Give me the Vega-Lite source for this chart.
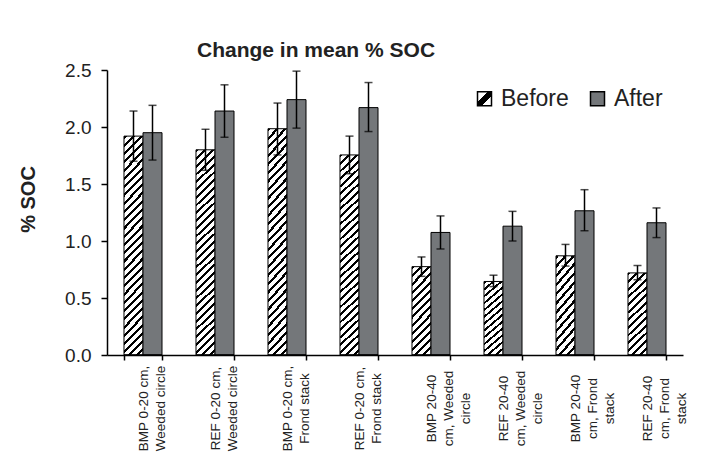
{
  "$schema": "https://vega.github.io/schema/vega-lite/v6.json",
  "width": 576,
  "height": 285,
  "autosize": {"type": "none"},
  "padding": {"left": 107, "top": 70, "right": 26, "bottom": 99},
  "background": "white",
  "config": {
    "font": "Liberation Sans",
    "view": {"stroke": null},
    "axis": {"labelColor": "#222", "titleColor": "#222"}
  },
  "title": {
    "text": "Change in mean % SOC",
    "fontSize": 21,
    "fontWeight": "bold",
    "color": "#222",
    "anchor": "start",
    "frame": "group",
    "dx": 90,
    "offset": 0
  },
  "data": {
    "values": [
      {"cat": "BMP 0-20 cm,|Weeded circle", "period": "Before", "mean": 1.92, "lo": 1.70, "hi": 2.14},
      {"cat": "BMP 0-20 cm,|Weeded circle", "period": "After", "mean": 1.95, "lo": 1.71, "hi": 2.19},
      {"cat": "REF 0-20 cm,|Weeded circle", "period": "Before", "mean": 1.80, "lo": 1.62, "hi": 1.98},
      {"cat": "REF 0-20 cm,|Weeded circle", "period": "After", "mean": 2.14, "lo": 1.91, "hi": 2.37},
      {"cat": "BMP 0-20 cm,|Frond stack", "period": "Before", "mean": 1.985, "lo": 1.755, "hi": 2.21},
      {"cat": "BMP 0-20 cm,|Frond stack", "period": "After", "mean": 2.24, "lo": 1.99, "hi": 2.49},
      {"cat": "REF 0-20 cm,|Frond stack", "period": "Before", "mean": 1.755, "lo": 1.59, "hi": 1.92},
      {"cat": "REF 0-20 cm,|Frond stack", "period": "After", "mean": 2.17, "lo": 1.96, "hi": 2.39},
      {"cat": "BMP 20-40|cm, Weeded|circle", "period": "Before", "mean": 0.775, "lo": 0.69, "hi": 0.86},
      {"cat": "BMP 20-40|cm, Weeded|circle", "period": "After", "mean": 1.075, "lo": 0.93, "hi": 1.22},
      {"cat": "REF 20-40|cm, Weeded|circle", "period": "Before", "mean": 0.645, "lo": 0.60, "hi": 0.70},
      {"cat": "REF 20-40|cm, Weeded|circle", "period": "After", "mean": 1.13, "lo": 1.00, "hi": 1.26},
      {"cat": "BMP 20-40|cm, Frond|stack", "period": "Before", "mean": 0.87, "lo": 0.78, "hi": 0.97},
      {"cat": "BMP 20-40|cm, Frond|stack", "period": "After", "mean": 1.265, "lo": 1.09, "hi": 1.45},
      {"cat": "REF 20-40|cm, Frond|stack", "period": "Before", "mean": 0.72, "lo": 0.66, "hi": 0.785},
      {"cat": "REF 20-40|cm, Frond|stack", "period": "After", "mean": 1.16, "lo": 1.03, "hi": 1.29}
    ]
  },
  "encoding": {
    "x": {
      "field": "cat",
      "type": "nominal",
      "sort": null,
      "scale": {"paddingInner": 0.4722, "paddingOuter": 0.2361},
      "axis": {
        "title": null,
        "tickBand": "extent",
        "ticks": true,
        "tickSize": 5,
        "tickColor": "black",
        "tickWidth": 1.5,
        "domainColor": "black",
        "domainWidth": 1.5,
        "labelAngle": -90,
        "labelAlign": "center",
        "labelBaseline": "middle",
        "labelPadding": 48,
        "labelFontSize": 13.5,
        "labelLineHeight": 17,
        "labelExpr": "split(datum.label, '|')"
      }
    },
    "xOffset": {
      "field": "period",
      "type": "nominal",
      "sort": ["Before", "After"],
      "scale": {"paddingInner": 0, "paddingOuter": 0}
    }
  },
  "layer": [
    {
      "mark": {"type": "bar", "strokeWidth": 1, "stroke": "black"},
      "encoding": {
        "y": {
          "field": "mean",
          "type": "quantitative",
          "title": "% SOC",
          "scale": {"domain": [0, 2.5], "nice": false},
          "axis": {
            "values": [0, 0.5, 1, 1.5, 2, 2.5],
            "format": ".1f",
            "grid": false,
            "domainColor": "black",
            "domainWidth": 1.5,
            "tickColor": "black",
            "tickWidth": 1.5,
            "tickSize": 6,
            "labelFontSize": 19,
            "labelPadding": 10,
            "titleFontSize": 20,
            "titleFontWeight": "bold",
            "titleAngle": -90,
            "titleAlign": "center",
            "titleBaseline": "middle",
            "titleX": -79,
            "titleY": 129
          }
        },
        "fill": {
          "condition": [
            {"test": "datum.period == 'After'", "value": "#74777a"},
            {"test": "datum.mean > 1.5", "value": {"gradient": "linear", "x1": 0, "y1": 0, "x2": 0.10736, "y2": 1.19793, "stops": [{"offset":0,"color":"#000"},{"offset":0.0117,"color":"#000"},{"offset":0.0117,"color":"#fff"},{"offset":0.03125,"color":"#fff"},{"offset":0.03125,"color":"#000"},{"offset":0.043,"color":"#000"},{"offset":0.043,"color":"#fff"},{"offset":0.0625,"color":"#fff"},{"offset":0.0625,"color":"#000"},{"offset":0.0742,"color":"#000"},{"offset":0.0742,"color":"#fff"},{"offset":0.09375,"color":"#fff"},{"offset":0.09375,"color":"#000"},{"offset":0.1055,"color":"#000"},{"offset":0.1055,"color":"#fff"},{"offset":0.125,"color":"#fff"},{"offset":0.125,"color":"#000"},{"offset":0.1367,"color":"#000"},{"offset":0.1367,"color":"#fff"},{"offset":0.15625,"color":"#fff"},{"offset":0.15625,"color":"#000"},{"offset":0.168,"color":"#000"},{"offset":0.168,"color":"#fff"},{"offset":0.1875,"color":"#fff"},{"offset":0.1875,"color":"#000"},{"offset":0.1992,"color":"#000"},{"offset":0.1992,"color":"#fff"},{"offset":0.21875,"color":"#fff"},{"offset":0.21875,"color":"#000"},{"offset":0.2305,"color":"#000"},{"offset":0.2305,"color":"#fff"},{"offset":0.25,"color":"#fff"},{"offset":0.25,"color":"#000"},{"offset":0.2617,"color":"#000"},{"offset":0.2617,"color":"#fff"},{"offset":0.28125,"color":"#fff"},{"offset":0.28125,"color":"#000"},{"offset":0.293,"color":"#000"},{"offset":0.293,"color":"#fff"},{"offset":0.3125,"color":"#fff"},{"offset":0.3125,"color":"#000"},{"offset":0.3242,"color":"#000"},{"offset":0.3242,"color":"#fff"},{"offset":0.34375,"color":"#fff"},{"offset":0.34375,"color":"#000"},{"offset":0.3555,"color":"#000"},{"offset":0.3555,"color":"#fff"},{"offset":0.375,"color":"#fff"},{"offset":0.375,"color":"#000"},{"offset":0.3867,"color":"#000"},{"offset":0.3867,"color":"#fff"},{"offset":0.40625,"color":"#fff"},{"offset":0.40625,"color":"#000"},{"offset":0.418,"color":"#000"},{"offset":0.418,"color":"#fff"},{"offset":0.4375,"color":"#fff"},{"offset":0.4375,"color":"#000"},{"offset":0.4492,"color":"#000"},{"offset":0.4492,"color":"#fff"},{"offset":0.46875,"color":"#fff"},{"offset":0.46875,"color":"#000"},{"offset":0.4805,"color":"#000"},{"offset":0.4805,"color":"#fff"},{"offset":0.5,"color":"#fff"},{"offset":0.5,"color":"#000"},{"offset":0.5117,"color":"#000"},{"offset":0.5117,"color":"#fff"},{"offset":0.53125,"color":"#fff"},{"offset":0.53125,"color":"#000"},{"offset":0.543,"color":"#000"},{"offset":0.543,"color":"#fff"},{"offset":0.5625,"color":"#fff"},{"offset":0.5625,"color":"#000"},{"offset":0.5742,"color":"#000"},{"offset":0.5742,"color":"#fff"},{"offset":0.59375,"color":"#fff"},{"offset":0.59375,"color":"#000"},{"offset":0.6055,"color":"#000"},{"offset":0.6055,"color":"#fff"},{"offset":0.625,"color":"#fff"},{"offset":0.625,"color":"#000"},{"offset":0.6367,"color":"#000"},{"offset":0.6367,"color":"#fff"},{"offset":0.65625,"color":"#fff"},{"offset":0.65625,"color":"#000"},{"offset":0.668,"color":"#000"},{"offset":0.668,"color":"#fff"},{"offset":0.6875,"color":"#fff"},{"offset":0.6875,"color":"#000"},{"offset":0.6992,"color":"#000"},{"offset":0.6992,"color":"#fff"},{"offset":0.71875,"color":"#fff"},{"offset":0.71875,"color":"#000"},{"offset":0.7305,"color":"#000"},{"offset":0.7305,"color":"#fff"},{"offset":0.75,"color":"#fff"},{"offset":0.75,"color":"#000"},{"offset":0.7617,"color":"#000"},{"offset":0.7617,"color":"#fff"},{"offset":0.78125,"color":"#fff"},{"offset":0.78125,"color":"#000"},{"offset":0.793,"color":"#000"},{"offset":0.793,"color":"#fff"},{"offset":0.8125,"color":"#fff"},{"offset":0.8125,"color":"#000"},{"offset":0.8242,"color":"#000"},{"offset":0.8242,"color":"#fff"},{"offset":0.84375,"color":"#fff"},{"offset":0.84375,"color":"#000"},{"offset":0.8555,"color":"#000"},{"offset":0.8555,"color":"#fff"},{"offset":0.875,"color":"#fff"},{"offset":0.875,"color":"#000"},{"offset":0.8867,"color":"#000"},{"offset":0.8867,"color":"#fff"},{"offset":1,"color":"#fff"}]}}
          ],
          "value": {"gradient": "linear", "x1": 0, "y1": 0, "x2": 0.62705, "y2": 2.83821, "stops": [{"offset":0,"color":"#000"},{"offset":0.0117,"color":"#000"},{"offset":0.0117,"color":"#fff"},{"offset":0.03125,"color":"#fff"},{"offset":0.03125,"color":"#000"},{"offset":0.043,"color":"#000"},{"offset":0.043,"color":"#fff"},{"offset":0.0625,"color":"#fff"},{"offset":0.0625,"color":"#000"},{"offset":0.0742,"color":"#000"},{"offset":0.0742,"color":"#fff"},{"offset":0.09375,"color":"#fff"},{"offset":0.09375,"color":"#000"},{"offset":0.1055,"color":"#000"},{"offset":0.1055,"color":"#fff"},{"offset":0.125,"color":"#fff"},{"offset":0.125,"color":"#000"},{"offset":0.1367,"color":"#000"},{"offset":0.1367,"color":"#fff"},{"offset":0.15625,"color":"#fff"},{"offset":0.15625,"color":"#000"},{"offset":0.168,"color":"#000"},{"offset":0.168,"color":"#fff"},{"offset":0.1875,"color":"#fff"},{"offset":0.1875,"color":"#000"},{"offset":0.1992,"color":"#000"},{"offset":0.1992,"color":"#fff"},{"offset":0.21875,"color":"#fff"},{"offset":0.21875,"color":"#000"},{"offset":0.2305,"color":"#000"},{"offset":0.2305,"color":"#fff"},{"offset":0.25,"color":"#fff"},{"offset":0.25,"color":"#000"},{"offset":0.2617,"color":"#000"},{"offset":0.2617,"color":"#fff"},{"offset":0.28125,"color":"#fff"},{"offset":0.28125,"color":"#000"},{"offset":0.293,"color":"#000"},{"offset":0.293,"color":"#fff"},{"offset":0.3125,"color":"#fff"},{"offset":0.3125,"color":"#000"},{"offset":0.3242,"color":"#000"},{"offset":0.3242,"color":"#fff"},{"offset":0.34375,"color":"#fff"},{"offset":0.34375,"color":"#000"},{"offset":0.3555,"color":"#000"},{"offset":0.3555,"color":"#fff"},{"offset":0.375,"color":"#fff"},{"offset":0.375,"color":"#000"},{"offset":0.3867,"color":"#000"},{"offset":0.3867,"color":"#fff"},{"offset":0.40625,"color":"#fff"},{"offset":0.40625,"color":"#000"},{"offset":0.418,"color":"#000"},{"offset":0.418,"color":"#fff"},{"offset":1,"color":"#fff"}]}
        }
      }
    },
    {
      "mark": {"type": "rule", "color": "black", "strokeWidth": 1.5},
      "encoding": {
        "y": {"field": "lo", "type": "quantitative", "title": "% SOC"},
        "y2": {"field": "hi"}
      }
    },
    {
      "mark": {"type": "tick", "color": "black", "size": 8, "thickness": 1.5},
      "encoding": {
        "y": {"field": "lo", "type": "quantitative", "title": "% SOC"}
      }
    },
    {
      "mark": {"type": "tick", "color": "black", "size": 8, "thickness": 1.5},
      "encoding": {
        "y": {"field": "hi", "type": "quantitative", "title": "% SOC"}
      }
    },
    {
      "mark": {"type": "bar", "stroke": "black", "strokeWidth": 1.5},
      "encoding": {
        "y": {"datum": 0, "type": "quantitative", "title": "% SOC"},
        "y2": {"datum": 0},
        "fill": {
          "field": "period",
          "type": "nominal",
          "scale": {
            "domain": ["Before", "After"],
            "range": [
              {"expr": "{gradient: 'linear', x1: 0, y1: 0, x2: 1, y2: 1, stops: [{offset: 0, color: '#fff'}, {offset: 0.36, color: '#fff'}, {offset: 0.36, color: '#000'}, {offset: 0.64, color: '#000'}, {offset: 0.64, color: '#fff'}, {offset: 1, color: '#fff'}]}"},
              "#74777a"
            ]
          },
          "legend": {
            "orient": "none",
            "legendX": 366,
            "legendY": 17,
            "direction": "horizontal",
            "title": null,
            "symbolType": "square",
            "symbolSize": 196,
            "symbolStrokeWidth": 1.5,
            "symbolStrokeColor": "black",
            "labelFontSize": 23,
            "labelColor": "#222",
            "labelOffset": 5,
            "columnPadding": 17,
            "padding": 0
          }
        }
      }
    }
  ]
}
